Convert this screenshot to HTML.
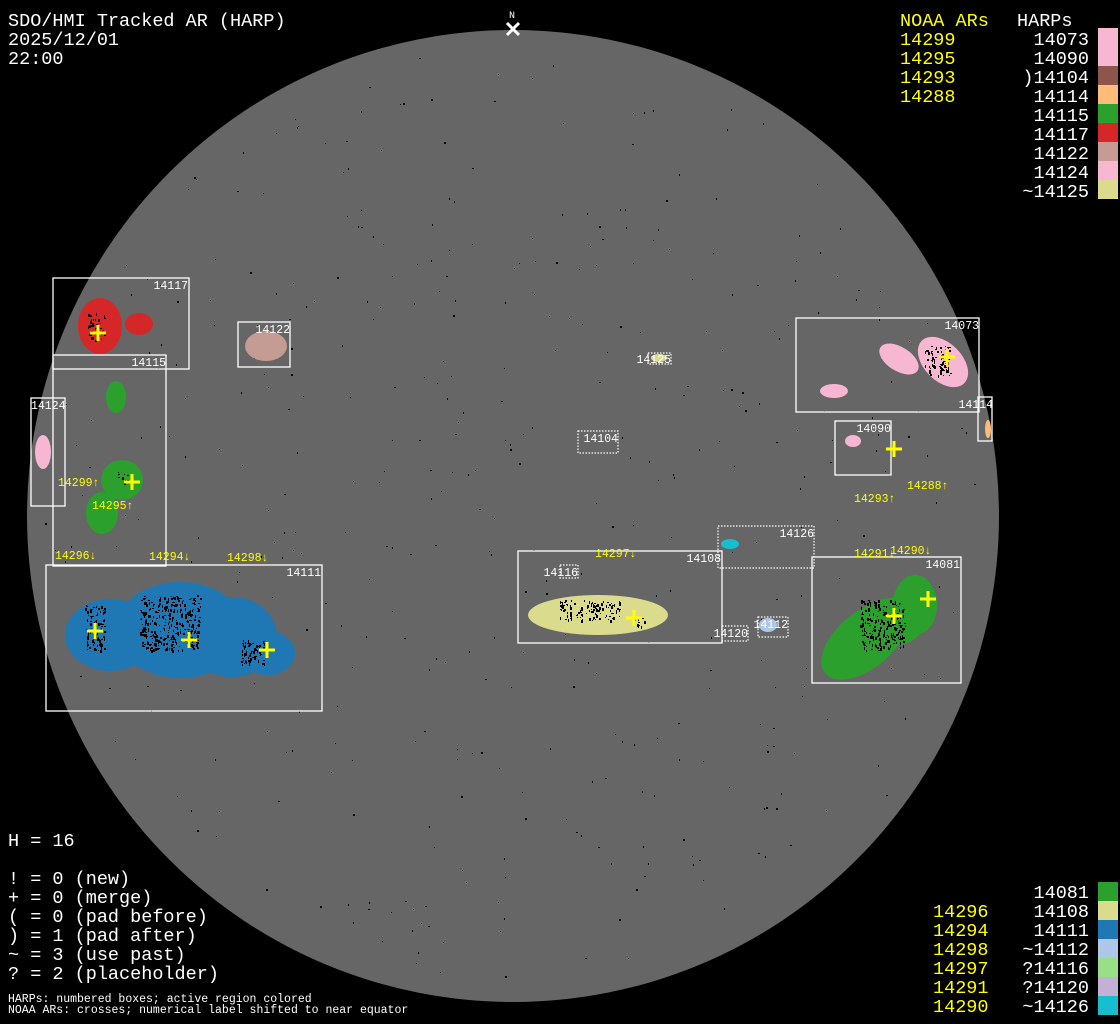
<!DOCTYPE html>
<html><head><meta charset="utf-8"><style>
html,body{margin:0;padding:0;background:#000;}
svg{display:block;}
text{font-family:"Liberation Mono","DejaVu Sans Mono",monospace;}
.big{font-size:18.5px;fill:#fff;}
.by{font-size:18.5px;fill:#ffff00;}
.sm{font-size:11.5px;fill:#fff;}
.sy{font-size:11.5px;fill:#ffff00;}
.bx{fill:none;stroke:#fff;stroke-width:1.3;}
.dt{fill:none;stroke:#fff;stroke-width:1.2;stroke-dasharray:1.5 1.5;}
.cr{stroke:#ffff00;stroke-width:3;}
</style></head><body>
<svg id="s" width="1120" height="1024" viewBox="0 0 1120 1024" xmlns="http://www.w3.org/2000/svg">
<rect width="1120" height="1024" fill="#000"/>
<circle cx="513" cy="516" r="486" fill="#666"/>
<g id="specks" fill="#000"></g>
<g>
<ellipse cx="100" cy="326" rx="22" ry="28" fill="#d62728"/>
<ellipse cx="139" cy="324" rx="14" ry="11" fill="#d62728"/>
<ellipse cx="266" cy="346" rx="21" ry="15" fill="#c49c94"/>
<ellipse cx="116" cy="397" rx="10" ry="16" fill="#2ca02c"/>
<ellipse cx="122" cy="480" rx="21" ry="20" fill="#2ca02c"/>
<ellipse cx="102" cy="513" rx="16" ry="21" fill="#2ca02c"/>
<ellipse cx="43" cy="452" rx="8" ry="17" fill="#f7b6d2"/>
<g fill="#1f77b4">
<ellipse cx="110" cy="635" rx="45" ry="36"/>
<ellipse cx="180" cy="630" rx="65" ry="48"/>
<ellipse cx="232" cy="637" rx="45" ry="40"/>
<ellipse cx="268" cy="653" rx="27" ry="22"/>
</g>
<ellipse cx="598" cy="615" rx="70" ry="20" fill="#dbdb8d"/>
<ellipse cx="730" cy="544" rx="9" ry="5" fill="#17becf"/>
<ellipse cx="768" cy="625" rx="9" ry="7" fill="#aec7e8"/>
<ellipse cx="834" cy="391" rx="14" ry="7" fill="#f7b6d2"/>
<ellipse cx="899" cy="359" rx="22" ry="12" fill="#f7b6d2" transform="rotate(32 899 359)"/>
<ellipse cx="943" cy="362" rx="30" ry="19" fill="#f7b6d2" transform="rotate(45 943 362)"/>
<ellipse cx="853" cy="441" rx="8" ry="6" fill="#f7b6d2"/>
<ellipse cx="988" cy="429" rx="3" ry="9" fill="#ffbb78"/>
<g fill="#2ca02c">
<ellipse cx="865" cy="640" rx="52" ry="28" transform="rotate(-40 865 640)"/>
<ellipse cx="915" cy="605" rx="22" ry="30"/>
<ellipse cx="892" cy="622" rx="32" ry="24"/>
</g>
<ellipse cx="659" cy="358" rx="8" ry="4" fill="#dbdb8d"/>
</g>
<g id="blk" fill="#000"></g>
<rect class="bx" x="53" y="278" width="136" height="91"/>
<rect class="bx" x="53" y="355" width="113" height="211"/>
<rect class="bx" x="31" y="398" width="34" height="108"/>
<rect class="bx" x="238" y="322" width="52" height="45"/>
<rect class="bx" x="46" y="565" width="276" height="146"/>
<rect class="bx" x="796" y="318" width="183" height="94"/>
<rect class="bx" x="978" y="397" width="14" height="44"/>
<rect class="bx" x="835" y="421" width="56" height="54"/>
<rect class="bx" x="812" y="557" width="149" height="126"/>
<rect class="bx" x="518" y="551" width="204" height="92"/>
<rect class="dt" x="718" y="526" width="96" height="42"/>
<rect class="dt" x="560" y="565" width="18" height="13"/>
<rect class="dt" x="722" y="626" width="26" height="15"/>
<rect class="dt" x="758" y="617" width="30" height="20"/>
<rect class="dt" x="578" y="431" width="40" height="22"/>
<rect class="dt" x="648" y="353" width="23" height="11"/>
<g class="sm">
<text x="188" y="289" text-anchor="end">14117</text>
<text x="166" y="366" text-anchor="end">14115</text>
<text x="31" y="409">14124</text>
<text x="290" y="333" text-anchor="end">14122</text>
<text x="321" y="576" text-anchor="end">14111</text>
<text x="979" y="329" text-anchor="end">14073</text>
<text x="993" y="408" text-anchor="end">14114</text>
<text x="891" y="432" text-anchor="end">14090</text>
<text x="960" y="568" text-anchor="end">14081</text>
<text x="721" y="562" text-anchor="end">14108</text>
<text x="814" y="537" text-anchor="end">14126</text>
<text x="578" y="576" text-anchor="end">14116</text>
<text x="748" y="637" text-anchor="end">14120</text>
<text x="788" y="628" text-anchor="end">14112</text>
<text x="618" y="442" text-anchor="end">14104</text>
<text x="671" y="363" text-anchor="end">14125</text>
</g>
<g class="cr">
<path d="M90 333h16M98 325v16"/>
<path d="M124 482h16M132 474v16"/>
<path d="M87 631h16M95 623v16"/>
<path d="M181 640h16M189 632v16"/>
<path d="M259 650h16M267 642v16"/>
<path d="M626 618h16M634 610v16"/>
<path d="M939 357h16M947 349v16"/>
<path d="M886 449h16M894 441v16"/>
<path d="M886 616h16M894 608v16"/>
<path d="M920 599h16M928 591v16"/>
</g>
<g class="sy">
<text x="58" y="486">14299↑</text>
<text x="92" y="509">14295↑</text>
<text x="55" y="559">14296↓</text>
<text x="149" y="560">14294↓</text>
<text x="227" y="561">14298↓</text>
<text x="595" y="557">14297↓</text>
<text x="854" y="557">14291↓</text>
<text x="890" y="554">14290↓</text>
<text x="854" y="502">14293↑</text>
<text x="907" y="489">14288↑</text>
</g>
<text x="512" y="18" text-anchor="middle" style="font-size:10px;fill:#fff">N</text>
<path d="M507 23l12 12M519 23l-12 12" stroke="#fff" stroke-width="3"/>
<text class="big" x="8" y="26">SDO/HMI Tracked AR (HARP)</text>
<text class="big" x="8" y="45">2025/12/01</text>
<text class="big" x="8" y="64">22:00</text>
<text class="by" x="900" y="26">NOAA ARs</text>
<text class="big" x="1017" y="26">HARPs</text>
<g class="by">
<text x="900" y="45">14299</text><text x="900" y="64">14295</text><text x="900" y="83">14293</text><text x="900" y="102">14288</text>
</g>
<g class="big" text-anchor="end">
<text x="1089" y="45">14073</text><text x="1089" y="64">14090</text><text x="1089" y="83">)14104</text>
<text x="1089" y="102">14114</text><text x="1089" y="121">14115</text><text x="1089" y="140">14117</text>
<text x="1089" y="159">14122</text><text x="1089" y="178">14124</text><text x="1089" y="197">~14125</text>
</g>
<rect x="1098" y="28" width="20" height="19" fill="#f7b6d2"/>
<rect x="1098" y="47" width="20" height="19" fill="#f7b6d2"/>
<rect x="1098" y="66" width="20" height="19" fill="#8c564b"/>
<rect x="1098" y="85" width="20" height="19" fill="#ffbb78"/>
<rect x="1098" y="104" width="20" height="19" fill="#2ca02c"/>
<rect x="1098" y="123" width="20" height="19" fill="#d62728"/>
<rect x="1098" y="142" width="20" height="19" fill="#c49c94"/>
<rect x="1098" y="161" width="20" height="19" fill="#f7b6d2"/>
<rect x="1098" y="180" width="20" height="19" fill="#dbdb8d"/>
<text class="big" x="8" y="846">H = 16</text>
<g class="big">
<text x="8" y="884">! = 0 (new)</text>
<text x="8" y="903">+ = 0 (merge)</text>
<text x="8" y="922">( = 0 (pad before)</text>
<text x="8" y="941">) = 1 (pad after)</text>
<text x="8" y="960">~ = 3 (use past)</text>
<text x="8" y="979">? = 2 (placeholder)</text>
</g>
<text class="sm" x="8" y="1002">HARPs: numbered boxes; active region colored</text>
<text class="sm" x="8" y="1013">NOAA ARs: crosses; numerical label shifted to near equator</text>
<g class="big" text-anchor="end">
<text x="1089" y="898">14081</text><text x="1089" y="917">14108</text><text x="1089" y="936">14111</text>
<text x="1089" y="955">~14112</text><text x="1089" y="974">?14116</text><text x="1089" y="993">?14120</text>
<text x="1089" y="1012">~14126</text>
</g>
<g class="by">
<text x="933" y="917">14296</text><text x="933" y="936">14294</text><text x="933" y="955">14298</text>
<text x="933" y="974">14297</text><text x="933" y="993">14291</text><text x="933" y="1012">14290</text>
</g>
<rect x="1098" y="882" width="20" height="19" fill="#2ca02c"/>
<rect x="1098" y="901" width="20" height="19" fill="#dbdb8d"/>
<rect x="1098" y="920" width="20" height="19" fill="#1f77b4"/>
<rect x="1098" y="939" width="20" height="19" fill="#aec7e8"/>
<rect x="1098" y="958" width="20" height="19" fill="#98df8a"/>
<rect x="1098" y="977" width="20" height="19" fill="#c5b0d5"/>
<rect x="1098" y="996" width="20" height="19" fill="#17becf"/>
</svg>
<script>
(function(){
var ns="http://www.w3.org/2000/svg",g=document.getElementById("specks"),b=document.getElementById("blk");
var s=12345;function r(){s=(s*1103515245+12345)%2147483648;return s/2147483648;}
for(var i=0;i<450;i++){var a=r()*6.2832,d=Math.sqrt(r())*470;var x=513+d*Math.cos(a),y=516+d*Math.sin(a);
var e=document.createElementNS(ns,"rect");e.setAttribute("x",x.toFixed(0));e.setAttribute("y",y.toFixed(0));
e.setAttribute("width",r()<0.75?1:2);e.setAttribute("height",r()<0.6?1:2);g.appendChild(e);}
var spots=[[88,312,16,28],[85,605,20,45],[140,595,60,55],[240,640,25,25],[118,472,10,10],[925,345,25,30],[860,600,45,50],[630,618,15,8],[560,600,60,20]];
spots.forEach(function(p){for(var k=0;k<p[2]*p[3]/10;k++){var e=document.createElementNS(ns,"rect");
e.setAttribute("x",(p[0]+r()*p[2]).toFixed(0));e.setAttribute("y",(p[1]+r()*p[3]).toFixed(0));
e.setAttribute("width",1+Math.floor(r()*2));e.setAttribute("height",1+Math.floor(r()*3));b.appendChild(e);}});
})();
</script>
</body></html>
